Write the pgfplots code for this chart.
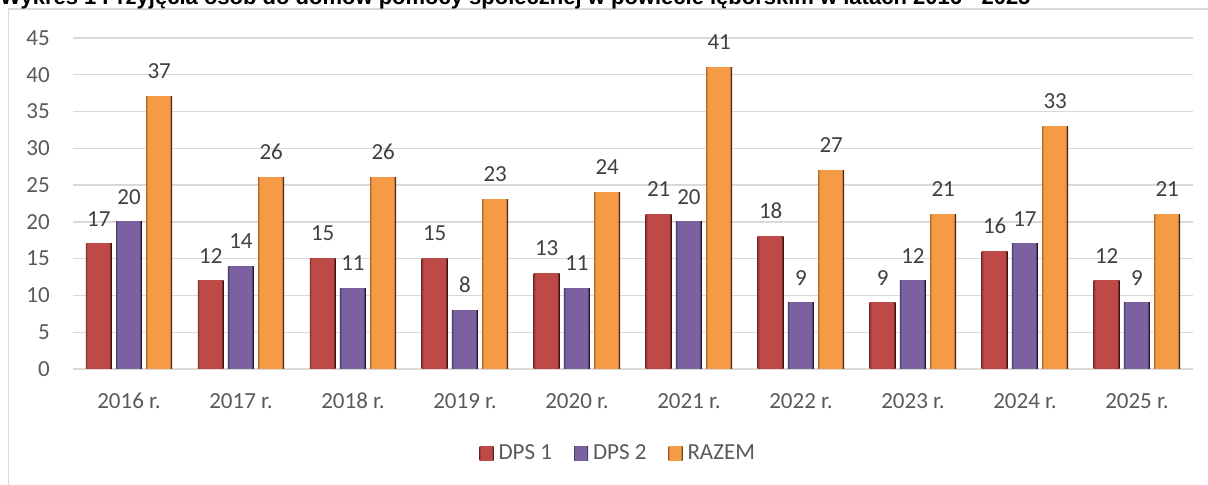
\documentclass[border=0pt]{standalone}
\usepackage{fontspec}
\setmainfont{Carlito}
\newfontfamily\titlefont{Liberation Sans}
\usepackage{pgfplots}
\usepackage{pgfplotstable}
\pgfplotsset{compat=1.18}

\definecolor{gridc}{HTML}{D9D9D9}
\definecolor{tickc}{HTML}{595959}
\definecolor{labc}{HTML}{404040}
\definecolor{redL}{HTML}{8A302E}
\definecolor{redM}{HTML}{BE4A47}
\definecolor{redD}{HTML}{3A1312}
\definecolor{purL}{HTML}{52406C}
\definecolor{purM}{HTML}{7C61A0}
\definecolor{purD}{HTML}{1E1629}
\definecolor{oraL}{HTML}{B8702E}
\definecolor{oraM}{HTML}{F59A45}
\definecolor{oraD}{HTML}{3B240E}

\pgfdeclarehorizontalshading{barred}{100bp}{color(0bp)=(redL); color(25bp)=(redL); color(28bp)=(redM); color(70bp)=(redM); color(73bp)=(redD); color(100bp)=(redD)}
\pgfdeclarehorizontalshading{barpur}{100bp}{color(0bp)=(purL); color(25bp)=(purL); color(28bp)=(purM); color(70bp)=(purM); color(73bp)=(purD); color(100bp)=(purD)}
\pgfdeclarehorizontalshading{barora}{100bp}{color(0bp)=(oraL); color(25bp)=(oraL); color(28bp)=(oraM); color(70bp)=(oraM); color(73bp)=(oraD); color(100bp)=(oraD)}

\pgfplotsset{sq legend/.style={legend image code/.code={\path[##1] (0bp,-7bp) rectangle (14bp,7bp);}}}

% przyjecia: DPS 1, DPS 2, razem
\pgfplotstableread{
x dps1 dps2 razem
0 17 20 37
1 12 14 26
2 15 11 26
3 15 8 23
4 13 11 24
5 21 20 41
6 18 9 27
7 9 12 21
8 16 17 33
9 12 9 21
}\data

\begin{document}
\begin{tikzpicture}
\useasboundingbox (0,0) rectangle (1208bp,485bp);
% chart frame, cut off on the right and bottom
\draw[gridc, line width=1.3bp] (8.5bp,-10bp) -- (8.5bp,476bp) -- (1230bp,476bp);
\node[anchor=base west, inner sep=0pt, font=\titlefont\bfseries\fontsize{22bp}{26bp}\selectfont]
  at (0bp,480bp) {Wykres 1 Przyjęcia osób do domów pomocy społecznej w powiecie lęborskim w latach 2016 - 2025};
\begin{axis}[
    at={(73bp,116bp)}, anchor=south west,
    scale only axis, width=1120bp, height=331bp,
    xmin=-0.5, xmax=9.5, ymin=0, ymax=45,
    xtick={0,...,9},
    xticklabels={2016 r.,2017 r.,2018 r.,2019 r.,2020 r.,2021 r.,2022 r.,2023 r.,2024 r.,2025 r.},
    ytick={0,5,...,45},
    ymajorgrids, grid style={gridc, line width=1.3bp},
    axis line style={draw=none}, major tick length=0pt,
    /pgf/number format/assume math mode=true,
    ticklabel style={font=\fontsize{23bp}{27bp}\selectfont, text=tickc, inner sep=0pt},
    xticklabel style={anchor=north, yshift=-24bp},
    yticklabel style={anchor=east, xshift=-23bp},
    ybar, bar width=0.232,
    nodes near coords,
    every node near coord/.append style={font=\fontsize{23bp}{27bp}\selectfont, text=labc, inner sep=0pt, anchor=south, yshift=17.5bp},
    legend style={at={(0.486,-0.254)}, anchor=center, draw=none, fill=none,
        legend columns=3, font=\fontsize{23bp}{27bp}\selectfont, text=tickc,
        nodes={inner sep=0pt},
        /tikz/every odd column/.append style={column sep=5bp},
        /tikz/every even column/.append style={column sep=22bp}},
]
% one path per bar, so that each bar gets its own shading
\pgfplotsinvokeforeach{0,...,9}{
  \addplot[draw=none, shade, shading=barred, bar shift=-0.27, forget plot,
    restrict x to domain=#1:#1] table[x=x, y=dps1] {\data};
  \addplot[draw=none, shade, shading=barpur, bar shift=0, forget plot,
    restrict x to domain=#1:#1] table[x=x, y=dps2] {\data};
  \addplot[draw=none, shade, shading=barora, bar shift=0.27, forget plot,
    restrict x to domain=#1:#1] table[x=x, y=razem] {\data};
}
\addlegendimage{draw=none, shade, shading=barred, sq legend}
\addlegendimage{draw=none, shade, shading=barpur, sq legend}
\addlegendimage{draw=none, shade, shading=barora, sq legend}
\legend{DPS 1,DPS 2,RAZEM}
\end{axis}
\end{tikzpicture}
\end{document}
